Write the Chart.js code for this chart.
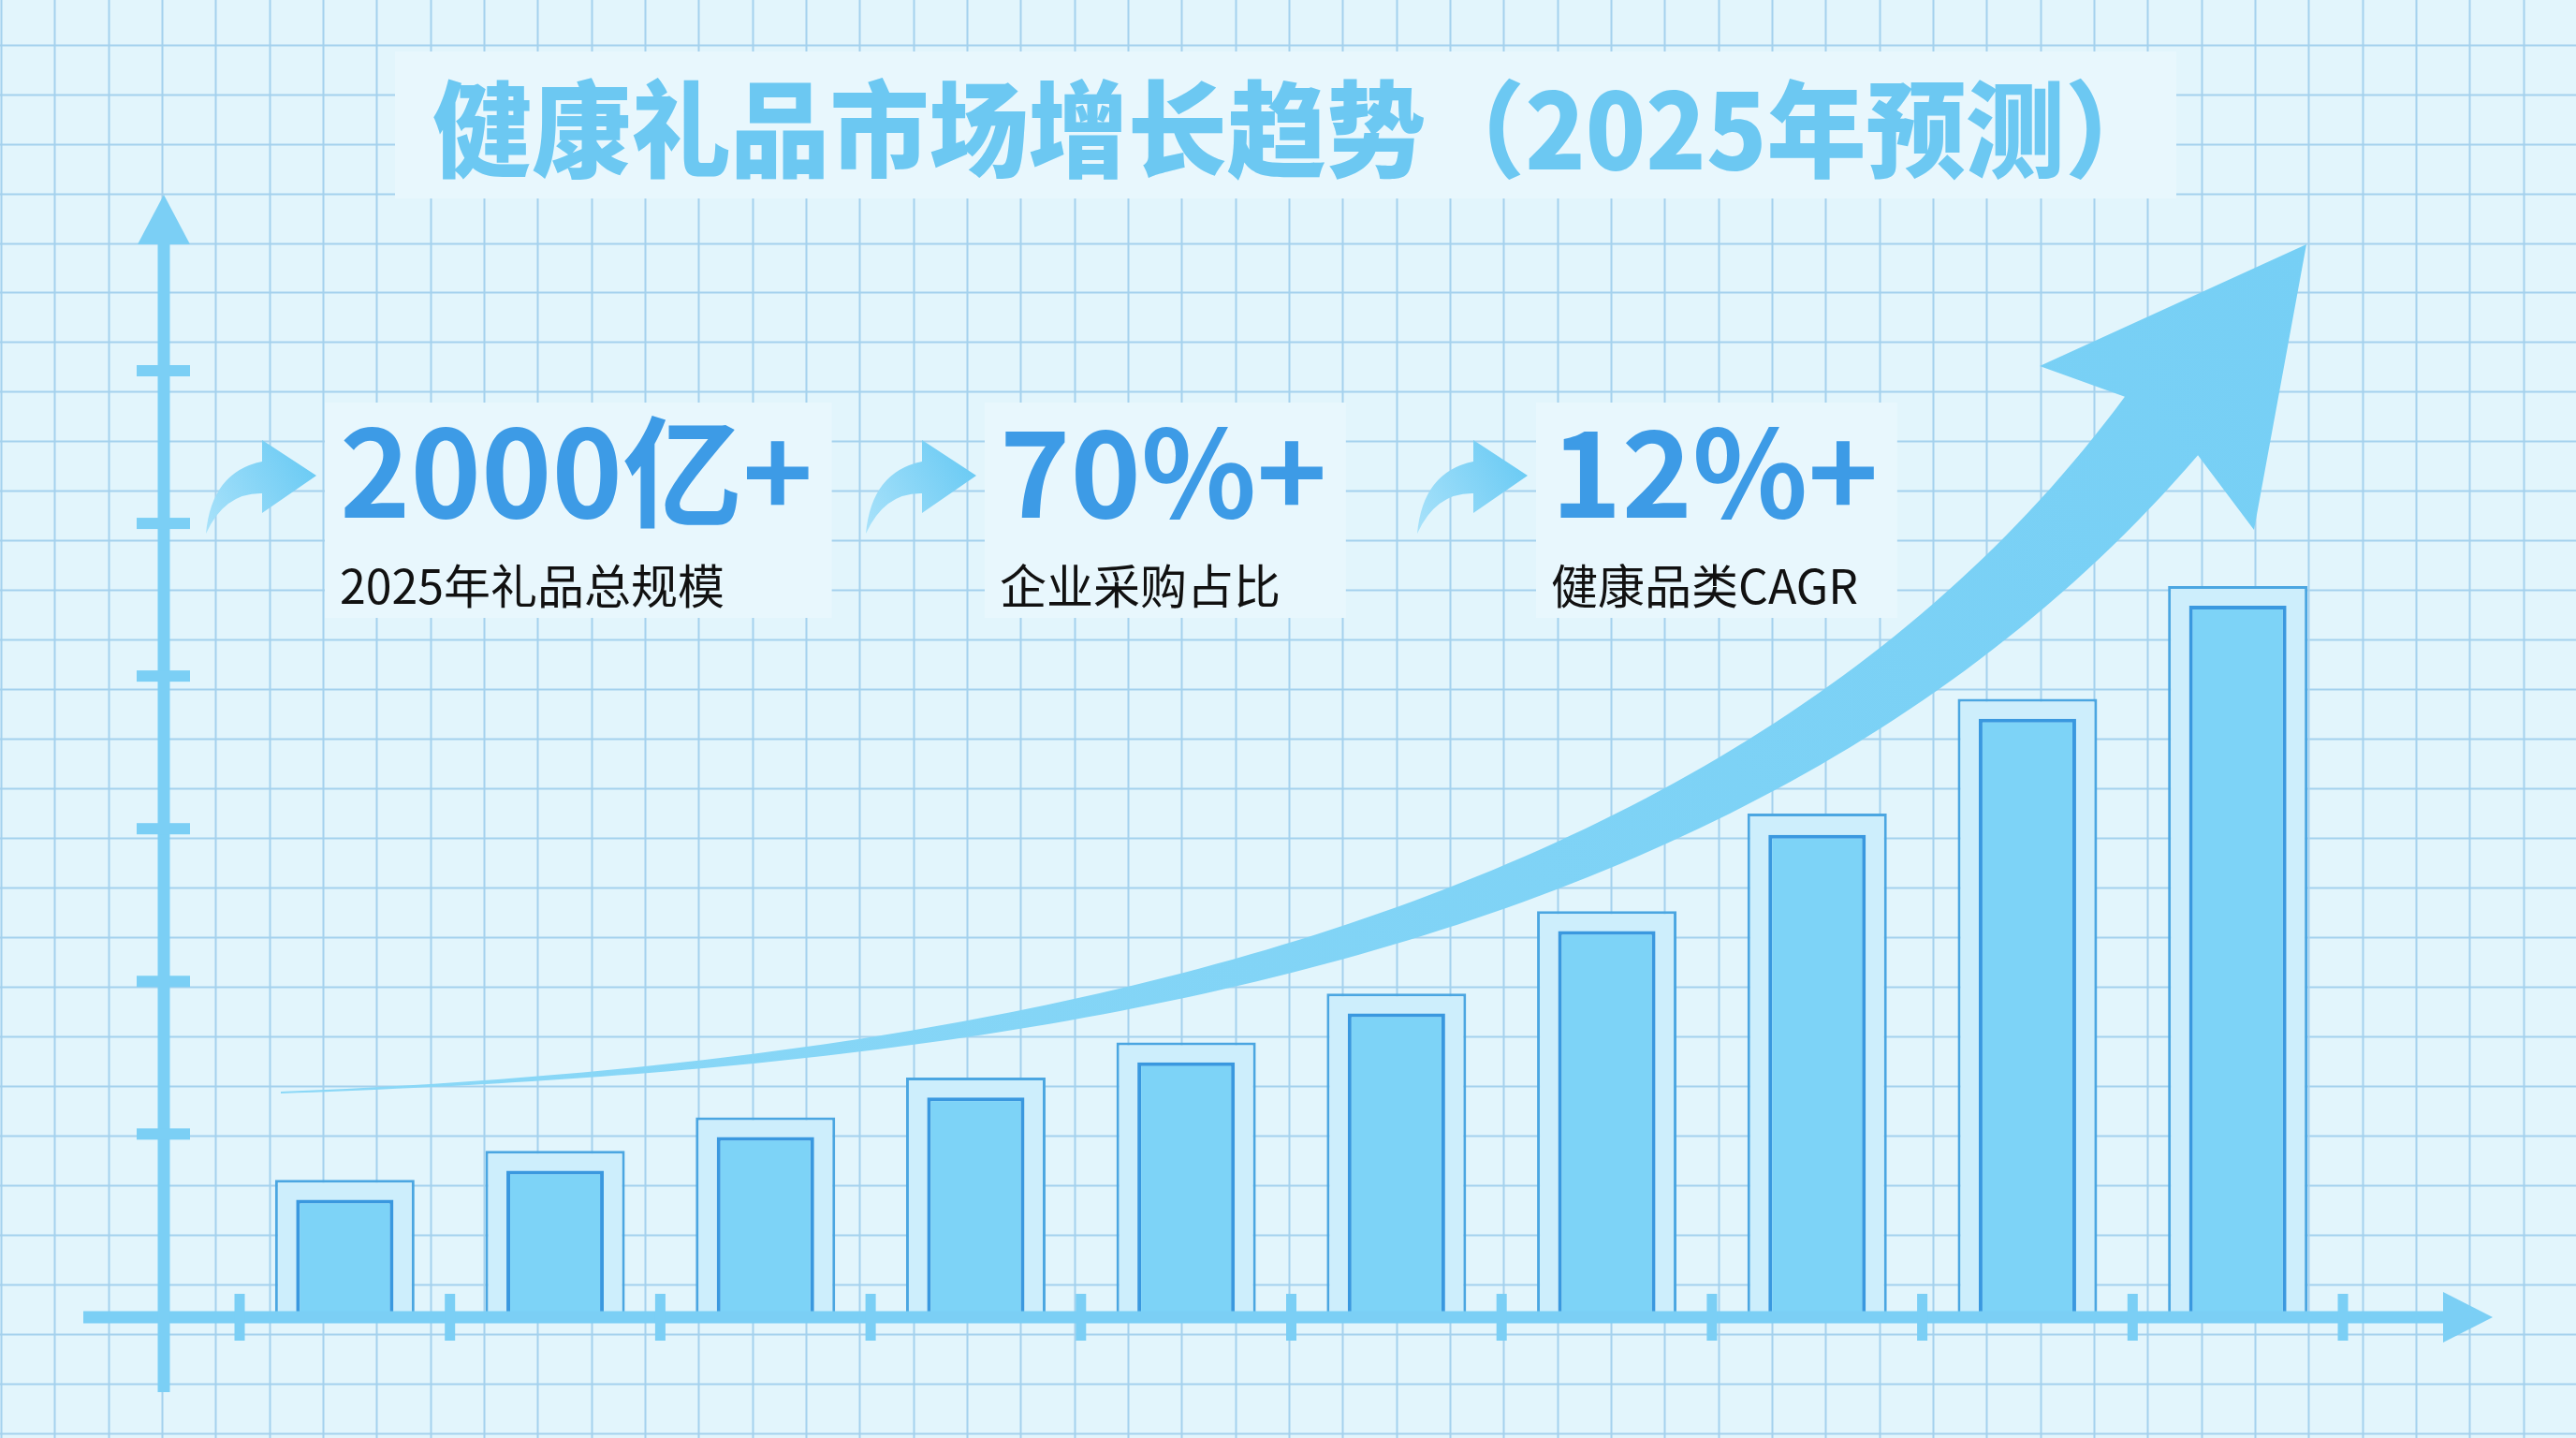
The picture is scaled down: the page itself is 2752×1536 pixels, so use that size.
<!DOCTYPE html>
<html>
<head>
<meta charset="utf-8">
<script src="https://cdn.jsdelivr.net/npm/chart.js@4.4.1/dist/chart.umd.min.js"></script>
<style>
  html, body { margin: 0; padding: 0; background: #e2f5fc; overflow: hidden; }
  canvas { display: block; }
</style>
</head>
<body>
<canvas id="chart" width="2752" height="1536"></canvas>
<script>
// data (units: arbitrary index, one y tick step = 100)
const years = ['2016', '2017', '2018', '2019', '2020', '2021', '2022', '2023', '2024', '2025'];
const frameValues = [90, 109, 131, 157, 180, 212, 266, 330, 405, 479];
const coreValues = [77, 96, 118, 144, 167, 199, 253, 316, 392, 466];
const yTicks = [120, 220, 320, 420, 520, 620];

const titleText = '健康礼品市场增长趋势（2025年预测）';
const statValues = ['2000亿+', '70%+', '12%+'];
const statLabels = ['2025年礼品总规模', '企业采购占比', '健康品类CAGR'];
const statX = [367, 1072, 1661];

const CJK = '"Noto Sans CJK SC", "Noto Sans", sans-serif';
const AXIS = '#7bcff5';

// grid paper, title band and stat patches
const backdrop = {
  id: 'backdrop',
  beforeDraw(chart) {
    const ctx = chart.ctx, W = chart.width, H = chart.height;
    ctx.save();
    ctx.fillStyle = '#e2f5fc';
    ctx.fillRect(0, 0, W, H);
    ctx.strokeStyle = '#a4d1ed';
    ctx.lineWidth = 2;
    ctx.beginPath();
    for (let k = 0; k <= 48; k++) {
      const x = Math.round(1 + k * W / 48) + 0.5;
      ctx.moveTo(x, 0); ctx.lineTo(x, H);
    }
    for (let k = 0; k <= 29; k++) {
      const y = Math.round(-5.3 + k * H / 29) + 0.5;
      ctx.moveTo(0, y); ctx.lineTo(W, y);
    }
    ctx.stroke();

    // title band
    ctx.fillStyle = '#e8f7fd';
    ctx.fillRect(422, 55, 1903, 157);
    ctx.font = '900 112px ' + CJK;
    ctx.fillStyle = '#6cc8f2';
    ctx.textBaseline = 'alphabetic';
    ctx.textAlign = 'left';
    ctx.fillText(titleText, 462, 181, 1850);

    // stat patches
    statValues.forEach((v, i) => {
      ctx.font = '700 128px ' + CJK;
      const w = ctx.measureText(v).width;
      ctx.fillStyle = '#e8f7fd';
      ctx.fillRect(statX[i] - 20, 430, w + 36, 230);
    });
    ctx.restore();
  }
};

function smallArrow(ctx, tx, ty) {
  ctx.save();
  ctx.translate(tx, ty);
  const g = ctx.createLinearGradient(-118, 62, 0, 0);
  g.addColorStop(0, '#a9e2fa');
  g.addColorStop(1, '#6ccbf4');
  ctx.fillStyle = g;
  ctx.beginPath();
  ctx.moveTo(0, 0);
  ctx.lineTo(-58, 40);
  ctx.lineTo(-58, 19);
  ctx.quadraticCurveTo(-98, 18, -118, 62);
  ctx.quadraticCurveTo(-112, -4, -58, -15);
  ctx.lineTo(-58, -38);
  ctx.closePath();
  ctx.fill();
  ctx.restore();
}

function bigArrow(ctx) {
  const P = [[300, 1167], [1000, 1140], [1844, 1037], [2309, 455]];
  const N = 120, left = [], right = [];
  for (let i = 0; i <= N; i++) {
    const t = i / N, u = 1 - t;
    const x = u*u*u*P[0][0] + 3*u*u*t*P[1][0] + 3*u*t*t*P[2][0] + t*t*t*P[3][0];
    const y = u*u*u*P[0][1] + 3*u*u*t*P[1][1] + 3*u*t*t*P[2][1] + t*t*t*P[3][1];
    const dx = 3*u*u*(P[1][0]-P[0][0]) + 6*u*t*(P[2][0]-P[1][0]) + 3*t*t*(P[3][0]-P[2][0]);
    const dy = 3*u*u*(P[1][1]-P[0][1]) + 6*u*t*(P[2][1]-P[1][1]) + 3*t*t*(P[3][1]-P[2][1]);
    const len = Math.hypot(dx, dy);
    const nx = -dy / len, ny = dx / len;
    const w = (2 + 98 * Math.pow(t, 1.7)) / 2;
    right.push([x + nx * w, y + ny * w]);
    left.push([x - nx * w, y - ny * w]);
  }
  const g = ctx.createLinearGradient(300, 1167, 2464, 261);
  g.addColorStop(0, '#8bd8f7');
  g.addColorStop(1, '#76cff5');
  ctx.save();
  ctx.fillStyle = g;
  ctx.beginPath();
  ctx.moveTo(right[0][0], right[0][1]);
  right.forEach(p => ctx.lineTo(p[0], p[1]));
  ctx.lineTo(2408, 566);
  ctx.lineTo(2464, 261);
  ctx.lineTo(2179, 391);
  for (let i = left.length - 1; i >= 0; i--) ctx.lineTo(left[i][0], left[i][1]);
  ctx.closePath();
  ctx.fill();
  ctx.restore();
}

const decor = {
  id: 'decor',
  beforeDatasetsDraw(chart) {
    const ctx = chart.ctx;
    bigArrow(ctx);
    ctx.save();
    ctx.textAlign = 'left';
    ctx.textBaseline = 'alphabetic';
    statValues.forEach((v, i) => {
      ctx.font = '700 128px ' + CJK;
      ctx.fillStyle = '#3d9be6';
      ctx.fillText(v, statX[i] - 4, 553);
      ctx.font = '400 50px ' + CJK;
      ctx.fillStyle = '#111111';
      ctx.fillText(statLabels[i], statX[i] - 4, 645);
      smallArrow(ctx, statX[i] - 29, 508);
    });
    ctx.restore();
  }
};

// axis arrows with tick marks, placed through the chart's scales
const axes = {
  id: 'axes',
  afterDatasetsDraw(chart) {
    const ctx = chart.ctx, a = chart.chartArea;
    const xs = chart.scales.x, ys = chart.scales.y;
    const y0 = ys.getPixelForValue(0);
    const axX = a.left - 81;
    ctx.save();
    ctx.fillStyle = AXIS;
    // x axis
    ctx.fillRect(89, y0 - 6.5, 2614 - 89, 13);
    ctx.beginPath();
    ctx.moveTo(2610, y0 - 27); ctx.lineTo(2663, y0); ctx.lineTo(2610, y0 + 27);
    ctx.closePath(); ctx.fill();
    const step = xs.getPixelForValue(1) - xs.getPixelForValue(0);
    for (let i = 0; i <= years.length; i++) {
      const px = xs.getPixelForValue(0) - step / 2 + i * step;
      ctx.fillRect(px - 5.5, y0 - 25, 11, 50);
    }
    // y axis
    ctx.fillRect(axX - 6.5, 258, 13, 1487 - 258);
    ctx.beginPath();
    ctx.moveTo(axX - 28, 261); ctx.lineTo(axX, 208); ctx.lineTo(axX + 28, 261);
    ctx.closePath(); ctx.fill();
    yTicks.forEach(v => {
      const py = ys.getPixelForValue(v);
      ctx.fillRect(axX - 29, py - 6, 57, 12);
    });
    ctx.restore();
  }
};

new Chart(document.getElementById('chart').getContext('2d'), {
  type: 'bar',
  data: {
    labels: years,
    datasets: [
      {
        label: 'core',
        data: coreValues,
        backgroundColor: '#7dd3f7',
        borderColor: '#3a98df',
        borderWidth: 4,
        barPercentage: 0.463,
        categoryPercentage: 1,
        grouped: false,
        order: 0
      },
      {
        label: 'frame',
        data: frameValues,
        backgroundColor: '#cdeefc',
        borderColor: '#4ba6e1',
        borderWidth: 3,
        barPercentage: 0.663,
        categoryPercentage: 1,
        grouped: false,
        order: 1
      }
    ]
  },
  options: {
    responsive: false,
    devicePixelRatio: 1,
    animation: false,
    layout: { padding: { left: 256, right: 249, top: 396, bottom: 129 } },
    scales: {
      x: { display: false, offset: true },
      y: { display: false, min: 0, max: 620 }
    },
    plugins: {
      legend: { display: false },
      tooltip: { enabled: false },
      title: { display: false }
    }
  },
  plugins: [backdrop, decor, axes]
});
</script>
</body>
</html>
